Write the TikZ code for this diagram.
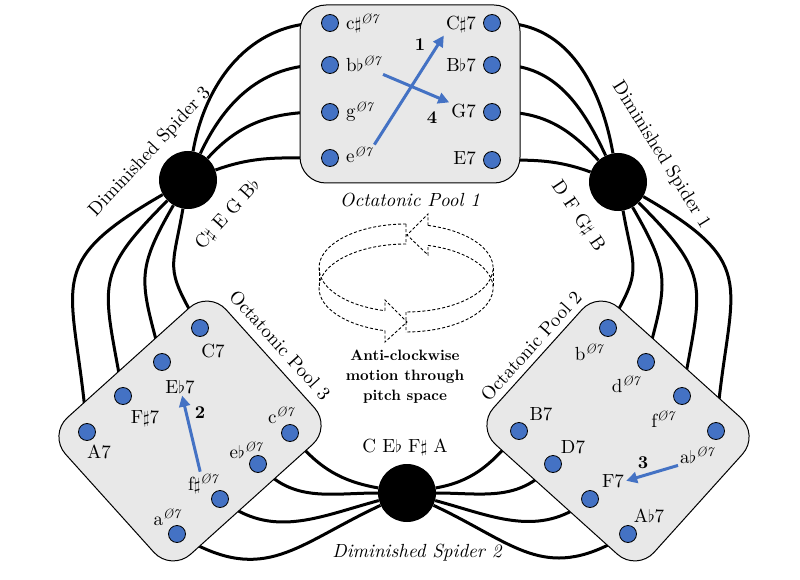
\documentclass[tikz,border=0pt]{standalone}
\usepackage{fontspec}
\setmainfont{lmroman10}[Extension=.otf,UprightFont=*-regular,BoldFont=*-bold,ItalicFont=*-italic,BoldItalicFont=*-bolditalic]
\usepackage{tikz}
\usetikzlibrary{arrows.meta}
\definecolor{dotblue}{HTML}{4472C4}
\definecolor{poolgray}{HTML}{E8E8E8}
\pgfdeclarelayer{wires}
\pgfsetlayers{wires,main}
\newcommand{\shp}{$\sharp$}
\newcommand{\flt}{$\flat$}
\newcommand{\hdim}{\textsuperscript{\itshape\O7}}

\begin{document}
\begin{tikzpicture}[x=1pt,y=1pt,every node/.style={font=\fontsize{19}{21}\selectfont,inner sep=2pt},
  pool/.style={draw,fill=poolgray,rounded corners=26pt,line width=1pt,minimum width=216pt,minimum height=184pt},
  dot/.style={circle,draw,fill=dotblue,minimum size=17pt,inner sep=0pt,line width=0.8pt},
  spider/.style={circle,fill=black,minimum size=58pt,inner sep=0pt},
  wire/.style={line width=3pt},
  move/.style={draw=dotblue,line width=3pt,-{Triangle[length=11pt,width=11pt]}},
  num/.style={font=\fontsize{18}{20}\selectfont\bfseries},
  tag/.style={font=\fontsize{19}{21}\selectfont\itshape},
  ring/.style={dash pattern=on 3pt off 2pt,line width=0.9pt}]
\useasboundingbox (0,0) rectangle (800,-580);
% pools
\node[pool,minimum width=220pt,minimum height=178pt] (pool1) at (410,-94) {};
\node[pool,rotate=42] (pool3) at (190,-431) {};
\node[pool,rotate=-42] (pool2) at (618,-431) {};
% pool 1
\node[dot] (p1h1) at (330,-23) {};\node[dot] (p1h2) at (330,-65) {};
\node[dot] (p1h3) at (330,-112) {};\node[dot] (p1h4) at (330,-158) {};
\node[dot] (p1d1) at (492,-23) {};\node[dot] (p1d2) at (492,-65) {};
\node[dot] (p1d3) at (492,-112) {};\node[dot] (p1d4) at (492,-160) {};
\node[anchor=base west] (l1h1) at (344,-30) {c\shp\hdim};
\node[anchor=base west] (l1h2) at (344,-72) {b\flt\hdim};
\node[anchor=base west] (l1h3) at (344,-118) {g\hdim};
\node[anchor=base west] (l1h4) at (344,-163) {e\hdim};
\node[anchor=base east] (l1d1) at (478,-30) {C\shp7};
\node[anchor=base east] (l1d2) at (478,-72) {B\flt7};
\node[anchor=base east] (l1d3) at (478,-118) {G7};
\node[anchor=base east] (l1d4) at (478,-165) {E7};
% pool 3
\node[dot] (p3d1) at (200,-328) {};\node[dot] (p3d2) at (162,-362) {};
\node[dot] (p3d3) at (123,-396) {};\node[dot] (p3d4) at (87,-432) {};
\node[dot] (p3h1) at (290,-433) {};\node[dot] (p3h2) at (258,-464) {};
\node[dot] (p3h3) at (220,-499) {};\node[dot] (p3h4) at (177,-534) {};
\node[anchor=base] (l3d1) at (213,-357) {C7};
\node[anchor=base] (l3d2) at (180,-393) {E\flt7};
\node[anchor=base] (l3d3) at (145,-423) {F\shp7};
\node[anchor=base] (l3d4) at (99,-458) {A7};
\node[anchor=base] (l3h1) at (281,-423) {c\hdim};
\node[anchor=base] (l3h2) at (246,-458) {e\flt\hdim};
\node[anchor=base] (l3h3) at (203,-490) {f\shp\hdim};
\node[anchor=base] (l3h4) at (167,-525) {a\hdim};
% pool 2
\node[dot] (p2h1) at (608,-328) {};\node[dot] (p2h2) at (646,-362) {};
\node[dot] (p2h3) at (682,-396) {};\node[dot] (p2h4) at (716,-431) {};
\node[dot] (p2d1) at (519,-431) {};\node[dot] (p2d2) at (553,-464) {};
\node[dot] (p2d3) at (590,-499) {};\node[dot] (p2d4) at (628,-534) {};
\node[anchor=base] (l2h1) at (589,-360) {b\hdim};
\node[anchor=base] (l2h2) at (626,-392) {d\hdim};
\node[anchor=base] (l2h3) at (663,-427) {f\hdim};
\node[anchor=base] (l2h4) at (697,-463) {a\flt\hdim};
\node[anchor=base] (l2d1) at (541,-420) {B7};
\node[anchor=base] (l2d2) at (573,-453) {D7};
\node[anchor=base] (l2d3) at (613,-487) {F7};
\node[anchor=base] (l2d4) at (649,-522) {A\flt7};
% moves
\draw[move] (l1h4.north east) -- (l1d1.south west);
\draw[move] (l1h2.south east) -- (l1d3.north west);
\draw[move] (l3h3) -- (l3d2);
\draw[move] (l2h4.south west) -- (l2d3.east);
\node[num] (n1) at (420,-45) {1};
\node[num] (n4) at (432,-118) {4};
\node[num] (n2) at (200,-413) {2};
\node[num] (n3) at (643,-463) {3};
% spiders
\node[spider] (s3) at (188,-180) {};
\node[spider] (s1) at (618,-182) {};
\node[spider] (s2) at (407,-493) {};
\node[rotate=47] (t3) at (150,-152) {Diminished Spider 3};
\node[rotate=48] (c3) at (228,-215) {C\shp{} E G B\flt};
\node[rotate=-58] (t1) at (661,-155) {Diminished Spider 1};
\node[rotate=-56] (c1) at (578,-216) {D F G\shp{} B};
\node (c2) at (405,-447) {C E\flt{} F\shp{} A};
\node[tag] (t2) at (417,-553) {Diminished Spider 2};
\node[tag] (o1) at (410,-200) {Octatonic Pool 1};
\node[rotate=-48] (o3) at (280,-345) {Octatonic Pool 3};
\node[rotate=48] (o2) at (531,-346) {Octatonic Pool 2};
% motion ring
\draw[ring] (406,-224) arc[start angle=90,end angle=256,x radius=87,y radius=44];
\draw[ring] (428,-225.4) arc[start angle=75.4,end angle=-90,x radius=87,y radius=44];
\draw[ring] (406,-244) arc[start angle=90,end angle=256,x radius=87,y radius=44];
\draw[ring] (428,-245.4) arc[start angle=75.4,end angle=-90,x radius=87,y radius=44];
\draw[ring] (319,-268) -- (319,-288) (493,-268) -- (493,-288);
\draw[ring] (428,-225.4) -- (428,-214) -- (407,-235) -- (428,-255) -- (428,-245.4) (406,-224) -- (406,-244);
\draw[ring] (385,-310.7) -- (385,-300) -- (407,-322) -- (385,-342) -- (385,-330.7) (406,-312) -- (406,-332);
\node[font=\fontsize{15}{20}\selectfont\bfseries,align=center] (motion) at (405,-377) {Anti-clockwise\\motion through\\pitch space};
% wires
\begin{pgfonlayer}{wires}
\foreach \s/\t/\o/\i/\l in {s3/p1h1/80/180/1, s3/p1h2/65/180/1, s3/p1h3/48/180/1, s3/p1h4/20/180/1,
  s1/p1d1/100/0/1, s1/p1d2/115/0/1, s1/p1d3/132/0/1, s1/p1d4/160/0/1,
  s3/p3d4/210/95/1.5, s3/p3d3/225/100/1.4, s3/p3d2/240/105/1.3, s3/p3d1/260/120/1.4,
  s1/p2h4/330/85/1.5, s1/p2h3/315/80/1.4, s1/p2h2/300/75/1.3, s1/p2h1/280/60/1.4,
  s2/p3h1/170/-50/1, s2/p3h2/180/-45/1, s2/p3h3/195/-35/1, s2/p3h4/205/-30/1.2,
  s2/p2d1/10/230/1, s2/p2d2/0/225/1, s2/p2d3/-15/215/1, s2/p2d4/-25/210/1.2}
  {\draw[wire] (\s) to[out=\o,in=\i,looseness=\l] (\t);}
\end{pgfonlayer}
\end{tikzpicture}
\end{document}
